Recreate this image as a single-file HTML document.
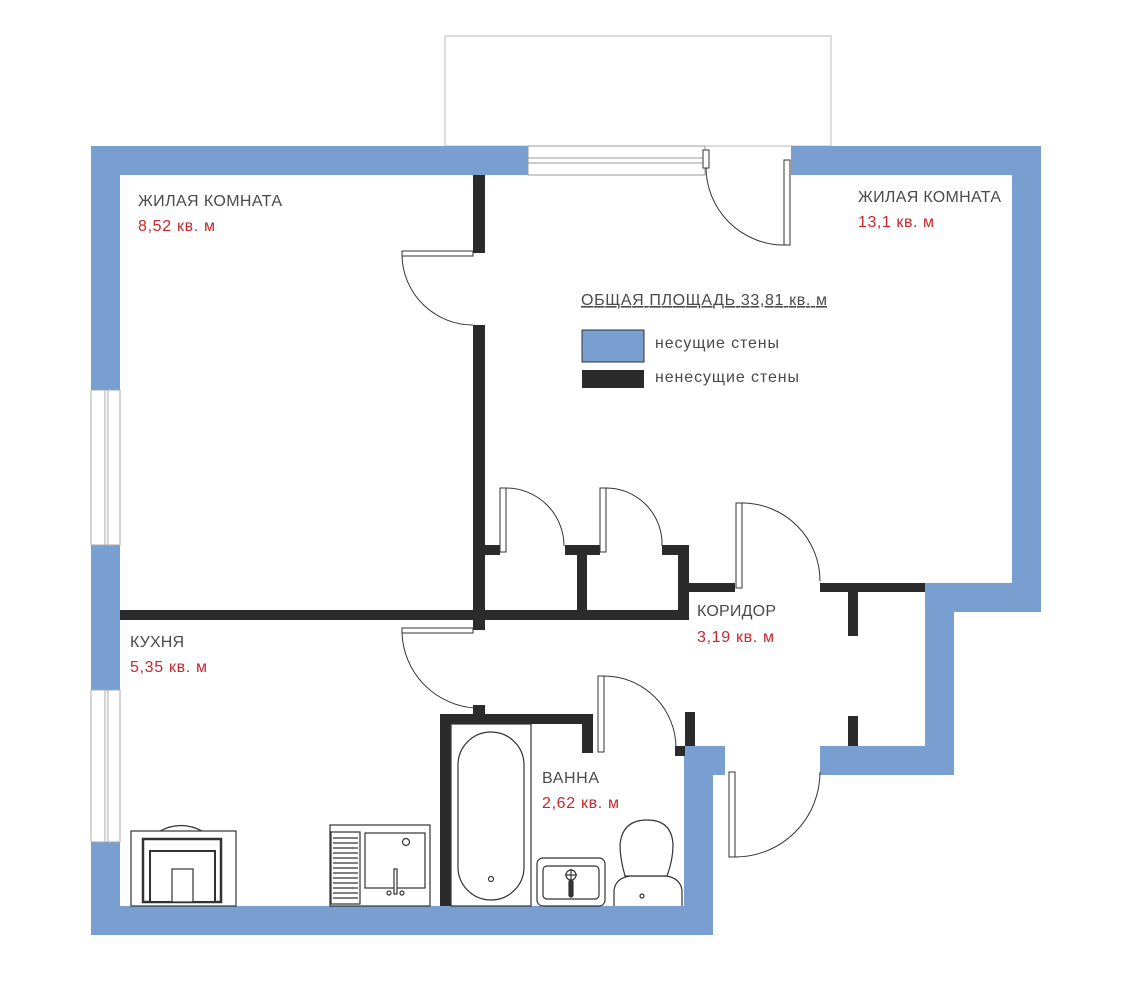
<!DOCTYPE html>
<html><head><meta charset="utf-8"><style>
body{margin:0;background:#fff}
svg{display:block}
text{font-family:"Liberation Sans","DejaVu Sans",sans-serif;font-size:16px}
.g{fill:#4a4a4a}.r{fill:#c8262c}
</style></head><body>
<svg width="1131" height="1000" viewBox="0 0 1131 1000">
<rect width="1131" height="1000" fill="#fff"/>
<rect x="445" y="36" width="386" height="110" fill="none" stroke="#bbb" stroke-width="1"/>
<rect x="528" y="146" width="177" height="29" fill="#fff" stroke="#999" stroke-width="1"/>
<line x1="528" y1="158" x2="705" y2="158" stroke="#999"/><line x1="528" y1="163" x2="705" y2="163" stroke="#999"/>
<g fill="#789fcf">
<rect x="91" y="146" width="437" height="29"/>
<rect x="91" y="146" width="29" height="244"/>
<rect x="91" y="545" width="29" height="145"/>
<rect x="91" y="842" width="29" height="93"/>
<rect x="91" y="906" width="622" height="29"/>
<rect x="684" y="746" width="29" height="189"/>
<rect x="684" y="746" width="41" height="29"/>
<rect x="791" y="146" width="250" height="29"/>
<rect x="1012" y="146" width="29" height="466"/>
<rect x="925" y="583" width="116" height="29"/>
<rect x="925" y="583" width="29" height="192"/>
<rect x="820" y="746" width="134" height="29"/>
</g>
<g fill="none" stroke="#aaa" stroke-width="1">
<rect x="91" y="390" width="29" height="155"/><line x1="105" y1="390" x2="105" y2="545"/><line x1="108" y1="390" x2="108" y2="545"/>
<rect x="91" y="690" width="29" height="152"/><line x1="105" y1="690" x2="105" y2="842"/><line x1="108" y1="690" x2="108" y2="842"/>
</g>
<g fill="#2b2b2b">
<rect x="473" y="175" width="12" height="78"/>
<rect x="473" y="325" width="12" height="305"/>
<rect x="120" y="610" width="569" height="10"/>
<rect x="678" y="545" width="11" height="75"/>
<rect x="689" y="583" width="46" height="9"/>
<rect x="485" y="545" width="15" height="10"/>
<rect x="565" y="545" width="35" height="10"/>
<rect x="577" y="545" width="10" height="70"/>
<rect x="662" y="545" width="27" height="10"/>
<rect x="820" y="583" width="105" height="9"/>
<rect x="848" y="592" width="10" height="44"/>
<rect x="848" y="716" width="10" height="30"/>
<rect x="685" y="712" width="10" height="34"/>
<rect x="675" y="746" width="10" height="10"/>
<rect x="440" y="714" width="11" height="192"/>
<rect x="440" y="714" width="153" height="10"/>
<rect x="582" y="714" width="11" height="39"/>
<rect x="473" y="705" width="12" height="9"/>
</g>
<g fill="#fff" stroke="#333" stroke-width="1">
<rect x="402" y="251" width="71" height="5"/>
<path d="M402 256 A71 71 0 0 0 473 325" fill="none"/>
<rect x="402" y="628" width="71" height="5"/>
<path d="M402 633 A78 78 0 0 0 475 708" fill="none"/>
<rect x="500" y="488" width="6" height="64"/>
<path d="M506 488 A58 58 0 0 1 564 546" fill="none"/>
<rect x="600" y="488" width="6" height="64"/>
<path d="M606 488 A56 56 0 0 1 662 546" fill="none"/>
<rect x="736" y="503" width="6" height="85"/>
<path d="M742 503 A78 78 0 0 1 820 581" fill="none"/>
<rect x="598" y="676" width="6" height="76"/>
<path d="M604 676 A72 72 0 0 1 676 748" fill="none"/>
<rect x="729" y="772" width="6" height="85"/>
<path d="M735 857 A85 85 0 0 0 820 772" fill="none"/>
<rect x="784" y="160" width="6" height="85"/>
<path d="M784 245 A78 78 0 0 1 706 167" fill="none"/>
<rect x="703" y="150" width="6" height="18"/>
</g>
<rect x="582" y="330" width="62" height="32" fill="#789fcf" stroke="#333" stroke-width="1"/>
<rect x="582" y="370" width="62" height="18" fill="#2b2b2b"/>
<text x="138" y="206" class="g" textLength="144">ЖИЛАЯ КОМНАТА</text>
<text x="138" y="231" class="r" textLength="77">8,52 кв. м</text>
<text x="858" y="202" class="g" textLength="143">ЖИЛАЯ КОМНАТА</text>
<text x="858" y="227" class="r" textLength="76">13,1 кв. м</text>
<text x="581" y="305" class="g" text-decoration="underline" textLength="246">ОБЩАЯ ПЛОЩАДЬ 33,81 кв. м</text>
<text x="655" y="348" class="g" textLength="124">несущие стены</text>
<text x="655" y="382" class="g" textLength="144">ненесущие стены</text>
<text x="130" y="647" class="g" textLength="54">КУХНЯ</text>
<text x="130" y="672" class="r" textLength="77">5,35 кв. м</text>
<text x="697" y="616" class="g" textLength="79">КОРИДОР</text>
<text x="697" y="642" class="r" textLength="77">3,19 кв. м</text>
<text x="542" y="783" class="g" textLength="57">ВАННА</text>
<text x="542" y="808" class="r" textLength="77">2,62 кв. м</text>
<g fill="#fff" stroke="#333" stroke-width="1.2">
<rect x="131" y="831" width="105" height="75"/>
<rect x="143" y="839" width="78" height="63" stroke-width="2.5"/>
<rect x="150" y="851" width="65" height="51" stroke-width="2"/>
<rect x="172" y="869" width="21" height="33"/>
<path d="M160 831 Q181 820 202 831" fill="none"/>
<rect x="330" y="825" width="100" height="81"/>
<rect x="331" y="832" width="29" height="72" fill="#fff"/>
<path d="M333 838h25M333 843h25M333 848h25M333 853h25M333 858h25M333 863h25M333 868h25M333 873h25M333 878h25M333 883h25M333 888h25M333 893h25M333 898h25" stroke-width="1.3"/>
<rect x="365" y="833" width="60" height="55"/>
<circle cx="406" cy="842" r="3.5"/>
<rect x="394" y="869" width="3" height="25"/>
<circle cx="389" cy="893" r="2"/><circle cx="402" cy="893" r="2"/>
<rect x="451" y="724" width="80" height="182"/>
<rect x="458" y="732" width="66" height="168" rx="33"/>
<circle cx="491" cy="879" r="2.5"/>
<rect x="537" y="858" width="68" height="48" rx="6"/>
<rect x="543" y="866" width="56" height="33" rx="4"/>
<circle cx="571" cy="875" r="5"/>
<path d="M565 875h12M571 869v12"/>
<rect x="569" y="880" width="4" height="17" rx="2" fill="#333"/>
<path d="M614 906 L614 890 Q616 878 630 876 L666 876 Q680 878 682 890 L682 906" />
<path d="M625 876 Q620 858 620 845 Q622 820 647 820 Q672 820 673 845 Q673 860 667 876 Z"/>
<circle cx="642" cy="896" r="2"/>
</g>
</svg>
</body></html>
